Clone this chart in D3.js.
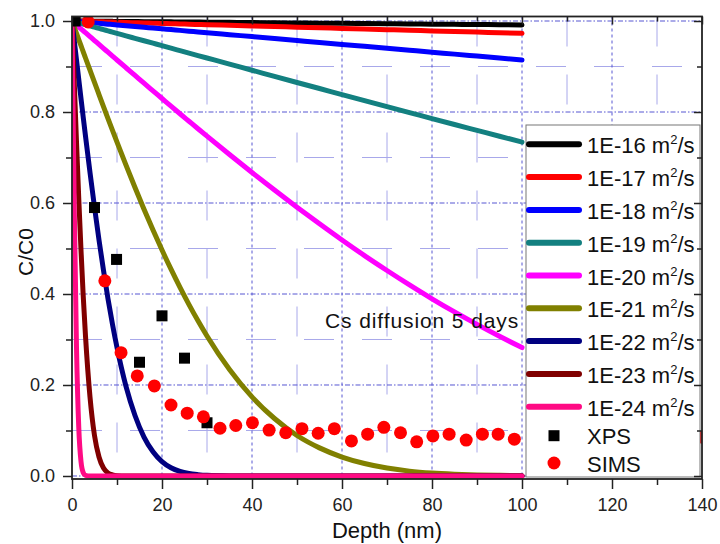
<!DOCTYPE html>
<html>
<head>
<meta charset="utf-8">
<script src="https://cdn.jsdelivr.net/npm/d3@7"></script>
<style>
  html, body { margin: 0; padding: 0; background: #fff; }
  svg { display: block; font-family: "Liberation Sans", Arial, sans-serif; }
</style>
</head>
<body>
<svg id="chart" width="720" height="544"></svg>
<script>
// Depth grid (nm) shared by the model profiles
const depth = [0, 0.5, 1, 1.5, 2, 2.5, 3, 4, 5, 6, 7, 8, 9, 10, 12, 14, 16, 18, 20, 22, 24, 26, 28, 30,
  35, 40, 45, 50, 55, 60, 65, 70, 75, 80, 85, 90, 95, 100];

// Normalised concentration C/C0 for each diffusion coefficient
const c16 = [1.0000, 1.0000, 0.9999, 0.9999, 0.9998, 0.9998, 0.9997, 0.9997, 0.9996, 0.9995, 0.9994, 0.9993, 0.9992, 0.9991,
  0.9990, 0.9988, 0.9986, 0.9985, 0.9983, 0.9981, 0.9979, 0.9978, 0.9976, 0.9974,
  0.9970, 0.9966, 0.9961, 0.9957, 0.9953, 0.9948, 0.9944, 0.9940, 0.9936, 0.9931, 0.9927, 0.9923, 0.9918, 0.9914];
const c17 = [1.0000, 0.9999, 0.9997, 0.9996, 0.9995, 0.9993, 0.9992, 0.9989, 0.9986, 0.9984, 0.9981, 0.9978, 0.9976, 0.9973,
  0.9967, 0.9962, 0.9957, 0.9951, 0.9946, 0.9940, 0.9935, 0.9929, 0.9924, 0.9919,
  0.9905, 0.9891, 0.9878, 0.9864, 0.9851, 0.9837, 0.9824, 0.9810, 0.9796, 0.9783, 0.9769, 0.9756, 0.9742, 0.9729];
const c18 = [1.0000, 0.9996, 0.9991, 0.9987, 0.9983, 0.9979, 0.9974, 0.9966, 0.9957, 0.9948, 0.9940, 0.9931, 0.9923, 0.9914,
  0.9897, 0.9880, 0.9863, 0.9845, 0.9828, 0.9811, 0.9794, 0.9777, 0.9760, 0.9743,
  0.9700, 0.9657, 0.9614, 0.9571, 0.9528, 0.9486, 0.9443, 0.9400, 0.9357, 0.9314, 0.9272, 0.9229, 0.9186, 0.9143];
const c19 = [1.0000, 0.9986, 0.9973, 0.9959, 0.9946, 0.9932, 0.9919, 0.9891, 0.9864, 0.9837, 0.9810, 0.9783, 0.9756, 0.9729,
  0.9674, 0.9620, 0.9566, 0.9512, 0.9458, 0.9403, 0.9349, 0.9295, 0.9241, 0.9187,
  0.9052, 0.8918, 0.8783, 0.8649, 0.8516, 0.8383, 0.8250, 0.8118, 0.7987, 0.7855, 0.7725, 0.7596, 0.7467, 0.7339];
const c20 = [1.0000, 0.9957, 0.9914, 0.9871, 0.9828, 0.9786, 0.9743, 0.9657, 0.9571, 0.9486, 0.9399, 0.9314, 0.9228, 0.9143,
  0.8973, 0.8803, 0.8633, 0.8465, 0.8297, 0.8129, 0.7962, 0.7797, 0.7632, 0.7469,
  0.7066, 0.6670, 0.6284, 0.5908, 0.5543, 0.5187, 0.4844, 0.4517, 0.4200, 0.3895, 0.3606, 0.3332, 0.3070, 0.2822];
const c21 = [1.0000, 0.9864, 0.9729, 0.9593, 0.9458, 0.9322, 0.9187, 0.8918, 0.8649, 0.8383, 0.8118, 0.7855, 0.7596, 0.7339,
  0.6832, 0.6340, 0.5864, 0.5405, 0.4965, 0.4545, 0.4145, 0.3767, 0.3411, 0.3077,
  0.2339, 0.1738, 0.1264, 0.0890, 0.0618, 0.0417, 0.0274, 0.0174, 0.0107, 0.0066, 0.0041, 0.0024, 0.0014, 0.0007];
const c22 = [1.0000, 0.9571, 0.9143, 0.8718, 0.8297, 0.7879, 0.7469, 0.6670, 0.5908, 0.5187, 0.4517, 0.3895, 0.3332, 0.2822,
  0.1969, 0.1329, 0.0856, 0.0533, 0.0317, 0.0182, 0.0099, 0.0053, 0.0029, 0.0014,
  0.0002, 0, 0, 0, 0, 0, 0, 0, 0, 0, 0, 0, 0, 0];
const c23 = [1.0000, 0.8649, 0.7339, 0.6100, 0.4965, 0.3950, 0.3077, 0.1738, 0.0890, 0.0417, 0.0174, 0.0066, 0.0024, 0.0007,
  0, 0, 0, 0, 0, 0, 0, 0, 0, 0,
  0, 0, 0, 0, 0, 0, 0, 0, 0, 0, 0, 0, 0, 0];
const c24 = [1.0000, 0.5908, 0.2822, 0.1074, 0.0317, 0.0072, 0.0014, 0, 0, 0, 0, 0, 0, 0,
  0, 0, 0, 0, 0, 0, 0, 0, 0, 0,
  0, 0, 0, 0, 0, 0, 0, 0, 0, 0, 0, 0, 0, 0];

const diffLabels = ["1E-16", "1E-17", "1E-18", "1E-19", "1E-20", "1E-21", "1E-22", "1E-23", "1E-24"];

// Measured profiles
const xpsDepth = [0.7, 5.0, 9.9, 15.0, 20.0, 25.0, 30.0];
const xpsC = [1.0, 0.590, 0.476, 0.250, 0.352, 0.259, 0.117];

const simsDepth = [3.6, 7.3, 10.9, 14.5, 18.3, 22.0, 25.6, 29.2, 32.9, 36.4, 40.1, 43.8, 47.5, 51.1, 54.7, 58.3,
  62.1, 65.7, 69.3, 73.0, 76.6, 80.2, 83.8, 87.6, 91.2, 94.7, 98.3, 140.1];
const simsC = [0.998, 0.429, 0.271, 0.220, 0.198, 0.156, 0.138, 0.130, 0.105, 0.111, 0.117, 0.101, 0.095, 0.104, 0.094, 0.104,
  0.077, 0.092, 0.107, 0.095, 0.075, 0.088, 0.092, 0.079, 0.092, 0.092, 0.081, 0.085];

const xMajor = [0, 20, 40, 60, 80, 100, 120, 140];
const xMinor = [10, 30, 50, 70, 90, 110, 130];
const yMajor = [0.0, 0.2, 0.4, 0.6, 0.8, 1.0];
const yMinor = [0.1, 0.3, 0.5, 0.7, 0.9];

// ---- styling ----
const curveColors = ["#000000", "#ff0000", "#0000ff", "#138080", "#ff00ff", "#808000", "#000080", "#800000", "#ff0a84"];
const font = '"Liberation Sans", Arial, sans-serif';

const svg = d3.select("#chart");
const pLeft = 72, pRight = 702, pTop = 16.5, pBottom = 479;

const x = d3.scaleLinear().domain([0, 140]).range([pLeft, pRight]);
const y = d3.scaleLinear().domain([-0.0066, 1.0099]).range([pBottom, pTop]);

// clip region for plotted data
svg.append("defs").append("clipPath").attr("id", "plotClip")
  .append("rect").attr("x", pLeft).attr("y", pTop).attr("width", pRight - pLeft).attr("height", pBottom - pTop);

// ---- grid ----
const grid = svg.append("g");
grid.selectAll(".gxm").data(xMinor).join("line")
  .attr("x1", d => x(d)).attr("x2", d => x(d)).attr("y1", pTop).attr("y2", pBottom)
  .attr("stroke", "#a8a8ea").attr("stroke-width", 1).attr("stroke-dasharray", "30,28");
grid.selectAll(".gym").data(yMinor).join("line")
  .attr("x1", pLeft).attr("x2", pRight).attr("y1", d => y(d)).attr("y2", d => y(d))
  .attr("stroke", "#a8a8ea").attr("stroke-width", 1).attr("stroke-dasharray", "30,28");
grid.selectAll(".gxM").data(xMajor.filter(d => d > 0 && d < 140)).join("line")
  .attr("x1", d => x(d)).attr("x2", d => x(d)).attr("y1", pTop).attr("y2", pBottom)
  .attr("stroke", "#5656d2").attr("stroke-width", 1).attr("stroke-dasharray", "3,3");
grid.selectAll(".gyM").data(yMajor).join("line")
  .attr("x1", pLeft).attr("x2", pRight).attr("y1", d => y(d)).attr("y2", d => y(d))
  .attr("stroke", "#5656d2").attr("stroke-width", 1).attr("stroke-dasharray", "5,2,1.5,2");

// ---- model curves ----
const allSeries = [c16, c17, c18, c19, c20, c21, c22, c23, c24];
const line = d3.line()
  .x((d, i) => x(depth[i]))
  .y(d => y(d))
  .curve(d3.curveMonotoneX);

const plot = svg.append("g").attr("clip-path", "url(#plotClip)");
allSeries.forEach((vals, k) => {
  plot.append("path")
    .datum(vals)
    .attr("d", line)
    .attr("fill", "none")
    .attr("stroke", curveColors[k])
    .attr("stroke-width", 5)
    .attr("stroke-linejoin", "round")
    .attr("stroke-linecap", "round");
});

// ---- measured points ----
const sq = 11;
plot.selectAll(".xps").data(xpsDepth).join("rect")
  .attr("x", (d) => x(d) - sq / 2)
  .attr("y", (d, i) => y(xpsC[i]) - sq / 2)
  .attr("width", sq).attr("height", sq)
  .attr("fill", "#000");
plot.selectAll(".sims").data(simsDepth).join("circle")
  .attr("cx", d => x(d))
  .attr("cy", (d, i) => y(simsC[i]))
  .attr("r", 6.5)
  .attr("fill", "#ff0000");

// annotation
svg.append("text")
  .attr("x", 325).attr("y", 328)
  .attr("font-size", 21).attr("letter-spacing", 0.9).attr("fill", "#111")
  .text("Cs diffusion 5 days");

// ---- legend ----
const lg = svg.append("g");
lg.append("rect")
  .attr("x", 526).attr("y", 125).attr("width", 174).attr("height", 352)
  .attr("fill", "#fff").attr("stroke", "#777").attr("stroke-width", 1);
diffLabels.forEach((lab, k) => {
  const cy = 144.3 + k * 32.8;
  lg.append("line")
    .attr("x1", 529).attr("x2", 579).attr("y1", cy).attr("y2", cy)
    .attr("stroke", curveColors[k]).attr("stroke-width", 6).attr("stroke-linecap", "round");
  const t = lg.append("text").attr("x", 587).attr("y", cy + 9)
    .attr("font-size", 22).attr("fill", "#111");
  t.append("tspan").text(lab + " m");
  t.append("tspan").attr("font-size", 13).attr("dy", -9).text("2");
  t.append("tspan").attr("dy", 9).text("/s");
});
lg.append("rect").attr("x", 554 - 5.5).attr("y", 435.7 - 5.5).attr("width", 11).attr("height", 11).attr("fill", "#000");
lg.append("text").attr("x", 587).attr("y", 444).attr("font-size", 22).attr("fill", "#111").text("XPS");
lg.append("circle").attr("cx", 554).attr("cy", 463).attr("r", 6.5).attr("fill", "#ff0000");
lg.append("text").attr("x", 587).attr("y", 472).attr("font-size", 22).attr("fill", "#111").text("SIMS");

// ---- axes ----
function styleAxis(g) {
  g.select(".domain").remove();
  g.selectAll(".tick line").attr("stroke", "#222").attr("stroke-width", 1.5);
  g.selectAll(".tick text").attr("font-size", 18).attr("fill", "#222").attr("font-family", font);
}
// bottom
svg.append("g").attr("transform", `translate(0,${pBottom})`)
  .call(d3.axisBottom(x).tickValues(xMajor).tickSize(10).tickPadding(9).tickFormat(d3.format("d")))
  .call(styleAxis);
svg.append("g").attr("transform", `translate(0,${pBottom})`)
  .call(d3.axisBottom(x).tickValues(xMinor).tickSize(6).tickFormat(""))
  .call(styleAxis);
// left
svg.append("g").attr("transform", `translate(${pLeft},0)`)
  .call(d3.axisLeft(y).tickValues(yMajor).tickSize(9).tickPadding(8).tickFormat(d3.format(".1f")))
  .call(styleAxis);
svg.append("g").attr("transform", `translate(${pLeft},0)`)
  .call(d3.axisLeft(y).tickValues(yMinor).tickSize(6).tickFormat(""))
  .call(styleAxis);
// top (inward ticks)
svg.append("g").attr("transform", `translate(0,${pTop})`)
  .call(d3.axisBottom(x).tickValues(xMajor).tickSize(8).tickFormat(""))
  .call(styleAxis);
svg.append("g").attr("transform", `translate(0,${pTop})`)
  .call(d3.axisBottom(x).tickValues(xMinor).tickSize(5).tickFormat(""))
  .call(styleAxis);
// right (inward ticks)
svg.append("g").attr("transform", `translate(${pRight},0)`)
  .call(d3.axisLeft(y).tickValues(yMajor).tickSize(8).tickFormat(""))
  .call(styleAxis);
svg.append("g").attr("transform", `translate(${pRight},0)`)
  .call(d3.axisLeft(y).tickValues(yMinor).tickSize(5).tickFormat(""))
  .call(styleAxis);

// frame
svg.append("rect")
  .attr("x", pLeft).attr("y", pTop).attr("width", pRight - pLeft).attr("height", pBottom - pTop)
  .attr("fill", "none").attr("stroke", "#222").attr("stroke-width", 1.8);

// axis titles
svg.append("text")
  .attr("x", (pLeft + pRight) / 2).attr("y", 538)
  .attr("text-anchor", "middle").attr("font-size", 22).attr("fill", "#111")
  .text("Depth (nm)");
svg.append("text")
  .attr("transform", "translate(33,252) rotate(-90)")
  .attr("text-anchor", "middle").attr("font-size", 21).attr("fill", "#111")
  .text("C/C0");
</script>
</body>
</html>
